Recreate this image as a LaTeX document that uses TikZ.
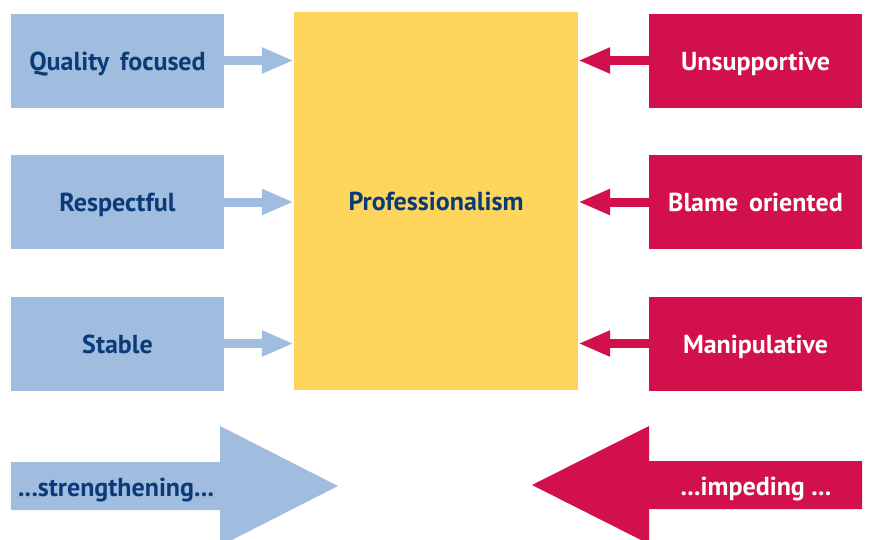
\documentclass[tikz,border=0pt]{standalone}
\usepackage{fontspec}
\setmainfont{PT Sans}
\usetikzlibrary{arrows.meta,positioning}
\definecolor{palblue}{HTML}{A0BCDF}
\definecolor{inkblue}{HTML}{0B3A78}
\definecolor{sunyellow}{HTML}{FDD45C}
\definecolor{crimson}{HTML}{D2114C}

\tikzset{
	label font/.style={font=\bfseries\fontsize{26}{28}\selectfont, text height=19pt, text depth=0pt},
	goodbox/.style={label font, fill=palblue, text=inkblue, minimum width=213pt, minimum height=94pt, inner sep=0pt},
	badbox/.style={label font, fill=crimson, text=white, minimum width=213pt, minimum height=94pt, inner sep=0pt},
	goodarrow/.style={palblue, line width=9pt, -{Triangle[length=32pt,width=24pt]}},
	badarrow/.style={crimson, line width=9pt, -{Triangle[length=32pt,width=24pt]}}
}

\begin{document}
\begin{tikzpicture}[x=1pt,y=-1pt]
	\useasboundingbox (0,0) rectangle (869,539);

	% centre block
	\node[label font, fill=sunyellow, text=inkblue, minimum width=284pt, minimum height=378pt, inner sep=0pt] (prof) at (436,201) {Professionalism};

	% supporting culture on the left
	\node[goodbox] (quality) at (117.5,60.5) {Quality\, focused};
	\node[goodbox] (respect) at (117.5,202) {Respectful};
	\node[goodbox] (stable) at (117.5,343.5) {Stable};

	% hindering culture on the right
	\node[badbox] (unsupp) at (755.5,60.5) {Unsupportive};
	\node[badbox] (blame) at (755.5,202) {Blame\, oriented};
	\node[badbox] (manip) at (755.5,343.5) {Manipulative};

	\draw[goodarrow] (quality.east) -- (quality.east -| prof.west);
	\draw[goodarrow] (respect.east) -- (respect.east -| prof.west);
	\draw[goodarrow] (stable.east) -- (stable.east -| prof.west);

	\draw[badarrow] (unsupp.west) -- (unsupp.west -| prof.east);
	\draw[badarrow] (blame.west) -- (blame.west -| prof.east);
	\draw[badarrow] (manip.west) -- (manip.west -| prof.east);

	% big arrows along the bottom
	\fill[palblue] (11,462) -- (220,462) -- (220,426) -- (338,486) -- (220,546) -- (220,510) -- (11,510) -- cycle;
	\fill[crimson] (862,461) -- (649,461) -- (649,426) -- (532,485) -- (649,544) -- (649,509) -- (862,509) -- cycle;
	\node[label font, text=inkblue] (strength) at (116,487) {...strengthening...};
	\node[label font, text=white] (impede) at (756,486) {...impeding ...};
\end{tikzpicture}
\end{document}
